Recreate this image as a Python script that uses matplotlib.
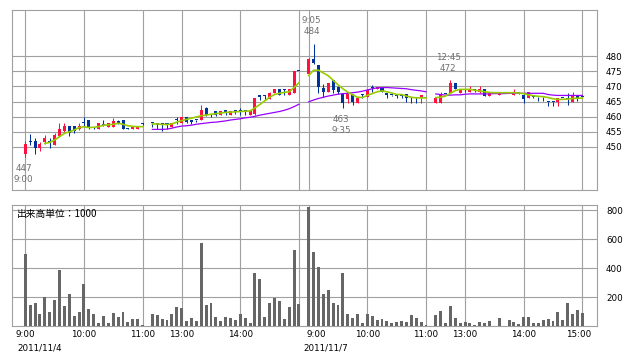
import numpy as np
import matplotlib
matplotlib.use("Agg")
import matplotlib.pyplot as plt
from matplotlib.transforms import blended_transform_factory

plt.rcParams["font.family"] = ["DejaVu Sans", "Noto Sans CJK JP"]

# ================= DATA =================
# 5-minute bars, one slot per bar; session breaks are empty slots (25, 57, 83)
bar_slot = list(range(0, 25)) + list(range(26, 57)) + list(range(58, 83)) + \
    list(range(84, 96)) + [97] + list(range(99, 115))

bar_open = [
    447.8, 452.0, 452.1, 449.8, 451.7, 452.0, 450.8, 453.7, 455.4, 456.9, 456.9, 455.8, 458.3,
    458.9, 456.5, 455.8, 457.5, 456.7, 456.7, 458.5, 458.9, 456.3, 455.8, 455.8, 457.8,
    458.0, 457.6, 457.6, 457.6, 456.6, 459.0, 457.8, 459.8, 458.6, 459.0, 458.9, 462.8, 460.8,
    461.9, 460.5, 461.9, 460.5, 461.9, 462.0, 461.9, 460.5, 460.8, 467.0, 467.0, 465.8, 467.7,
    469.0, 469.0, 467.1, 467.9, 475.0,
    474.0, 479.0, 477.0, 469.4, 468.0, 472.1, 469.9, 467.4, 465.7, 467.4, 464.6, 467.4, 466.6,
    469.5, 469.0, 469.9, 467.4, 467.3, 467.0, 467.0, 467.4, 466.4, 466.4, 466.0, 466.2,
    464.6, 464.6, 467.5, 467.9, 471.0, 467.9, 469.0, 468.0, 469.0, 468.0, 469.0, 466.8,
    467.0, 468.0, 467.0, 467.8, 467.1, 466.0, 466.8, 466.6, 466.6, 465.0, 465.0, 465.0, 466.0,
    466.0, 465.0, 467.1, 466.6,
]
bar_high = [
    452.0, 454.2, 453.1, 451.8, 454.0, 453.1, 454.7, 457.8, 457.9, 456.9, 456.9, 458.0, 459.8,
    458.9, 456.6, 457.8, 458.9, 457.8, 459.5, 458.9, 458.9, 456.3, 456.9, 456.9, 457.9,
    458.0, 457.6, 457.6, 457.6, 458.0, 459.8, 460.0, 459.8, 458.6, 459.0, 463.8, 463.1, 460.8,
    461.9, 461.9, 461.9, 461.9, 461.9, 463.0, 461.9, 461.9, 466.3, 467.1, 467.1, 468.0, 469.2,
    469.0, 469.0, 469.0, 475.0, 475.0,
    479.5, 484.0, 477.0, 470.7, 471.0, 472.1, 470.2, 467.4, 467.4, 467.4, 466.0, 467.4, 468.8,
    470.5, 469.9, 469.9, 467.4, 467.3, 467.6, 467.6, 467.4, 466.4, 466.4, 467.1, 466.2,
    466.0, 468.0, 467.5, 472.1, 471.0, 469.0, 469.0, 470.0, 469.2, 470.0, 469.0, 467.9,
    467.9, 468.2, 469.0, 467.9, 467.6, 468.2, 466.8, 466.6, 466.6, 465.0, 465.0, 466.0, 466.0,
    467.7, 468.0, 467.1, 466.6,
]
bar_low = [
    446.8, 450.7, 447.8, 448.8, 451.0, 449.8, 450.5, 453.4, 454.9, 453.6, 454.7, 455.7, 456.5,
    455.8, 455.8, 455.8, 457.0, 456.7, 456.7, 457.5, 455.8, 455.8, 455.8, 455.8, 457.3,
    456.6, 456.0, 455.4, 456.0, 456.6, 457.5, 457.8, 458.0, 457.6, 458.4, 458.9, 460.3, 459.8,
    460.3, 460.5, 460.5, 460.5, 460.8, 460.5, 460.5, 460.5, 460.5, 465.5, 465.5, 465.8, 467.7,
    467.1, 467.0, 467.1, 467.9, 475.0,
    474.0, 477.5, 467.7, 466.5, 468.0, 467.7, 467.6, 463.0, 464.6, 464.0, 464.6, 466.0, 466.6,
    468.0, 469.0, 468.2, 466.3, 466.8, 466.0, 466.0, 465.0, 464.6, 464.6, 464.6, 466.2,
    464.6, 464.6, 467.3, 467.9, 469.0, 467.9, 468.0, 468.0, 468.0, 467.9, 466.8, 466.8,
    467.0, 467.8, 467.0, 467.6, 464.4, 466.0, 466.0, 465.2, 465.2, 463.5, 463.5, 463.5, 466.0,
    463.8, 465.0, 465.2, 466.6,
]
bar_close = [
    451.0, 451.7, 449.8, 451.0, 453.1, 451.2, 454.0, 455.9, 457.0, 454.7, 455.4, 456.9, 458.0,
    456.5, 456.3, 457.8, 457.3, 457.8, 458.7, 458.0, 455.8, 456.0, 456.9, 456.9, 457.7,
    457.8, 457.4, 457.4, 457.4, 458.0, 458.8, 459.8, 458.4, 458.4, 458.8, 462.2, 460.5, 460.5,
    460.5, 461.9, 461.7, 461.9, 461.7, 461.8, 461.7, 461.9, 466.3, 466.6, 466.8, 467.9, 469.0,
    467.1, 468.8, 469.0, 475.0, 475.0,
    479.0, 477.7, 469.9, 468.0, 471.0, 468.8, 468.2, 464.6, 467.4, 464.9, 466.0, 467.1, 468.8,
    469.3, 469.9, 468.2, 467.3, 467.1, 466.8, 466.8, 466.0, 466.2, 466.2, 467.1, 466.2,
    466.0, 467.5, 467.4, 471.2, 469.0, 469.0, 468.8, 469.2, 468.8, 469.0, 466.8, 467.9,
    467.9, 467.9, 468.0, 467.7, 465.7, 468.2, 466.6, 466.4, 466.4, 464.8, 464.8, 466.0, 466.0,
    465.8, 466.8, 466.0, 466.6,
]
volume = [
    497, 147, 159, 85, 200, 96, 181, 388, 140, 223, 71, 96, 292, 119, 85, 23, 71, 25, 92, 64,
    96, 30, 51, 51, 9,
    85, 78, 51, 44, 85, 131, 124, 37, 55, 37, 573, 147, 159, 64, 37, 64, 57, 44, 85, 57, 23,
    366, 324, 64, 159, 193, 175, 51, 131, 526, 154,
    821, 510, 409, 221, 248, 161, 147, 366, 85, 57, 85, 23, 85, 71, 44, 51, 35, 23, 30, 37,
    30, 78, 57, 30, 9,
    78, 106, 25, 140, 57, 23, 30, 23, 9, 30, 23, 37, 57, 44, 30, 16, 64, 64, 23, 23, 44, 51,
    37, 99, 44, 161, 85, 113, 92,
]

# moving averages, one value per slot (None = not drawn)
ma_short = [None] * 4 + [
    451.2, 451.5, 452.3, 453.4, 454.5, 455.0, 455.6, 456.4, 456.7, 456.4, 456.5, 456.7, 457.2,
    457.3, 457.5, 457.8, 457.5, 457.0, 456.8, 456.7, 456.7,
] + [None] + [
    457.6, 457.6, 457.4, 457.4, 457.6, 458.2, 458.7, 459.1, 459.5, 459.9, 460.3, 460.5, 460.8,
    461.0, 461.2, 461.4, 461.5, 461.6, 461.7, 461.8, 461.9, 462.9, 464.0, 465.2, 466.4, 467.3,
    467.7, 468.0, 468.2, 469.6, 471.2,
] + [None] + [
    473.6, 475.3, 475.3, 474.4, 473.5, 472.0, 470.5, 469.2, 468.1, 467.2, 466.4, 466.3, 467.0,
    467.6, 468.2, 468.5, 468.2, 467.8, 467.3, 467.3, 466.8, 466.4, 466.2, 466.2, 466.2,
] + [None] + [
    466.3, 466.4, 466.8, 467.7, 468.6, 469.0, 469.0, 469.0, 468.7, 468.5, 468.2, 468.0, 467.9,
    467.9, 467.9, 467.9, 467.9, 467.8, 467.6, 467.2, 466.9, 466.7, 466.6, 466.3, 465.9, 465.7,
    465.7, 465.8, 466.0, 466.1, 466.1,
]
ma_long = [None] * 24 + [455.6] + [None] + [
    455.8, 455.8, 455.8, 455.9, 456.2, 456.6, 456.9, 457.0, 457.2, 457.5, 457.7, 457.9, 458.1,
    458.2, 458.4, 458.6, 458.9, 459.1, 459.3, 459.6, 459.8, 460.1, 460.5, 460.8, 461.1, 461.4,
    461.7, 462.1, 462.6, 463.3, 464.1,
] + [None] + [
    464.9, 465.5, 466.0, 466.4, 466.8, 467.1, 467.4, 467.6, 467.7, 467.9, 468.1, 468.4, 468.8,
    469.2, 469.5, 469.6, 469.6, 469.5, 469.4, 469.3, 469.2, 468.9, 468.7, 468.5, 468.2,
] + [None] + [
    467.5, 467.3, 467.1, 467.1, 467.2, 467.2, 467.4, 467.5, 467.5, 467.5, 467.5, 467.5, 467.6,
    467.6, 467.6, 467.7, 467.7, 467.7, 467.7, 467.7, 467.7, 467.7, 467.7, 467.3, 467.1, 467.0,
    467.0, 467.0, 467.0, 467.0, 467.0,
]

price_ticks = [450, 455, 460, 465, 470, 475, 480]
volume_ticks = [200, 400, 600, 800]
grid_slots = [0, 12, 24, 32, 44, 56, 58, 70, 82, 90, 102, 114]
hour_labels = ["9:00", "10:00", "11:00", "13:00", "14:00",
               "9:00", "10:00", "11:00", "13:00", "14:00", "15:00"]
hour_slots = [0, 12, 24, 32, 44, 58, 70, 82, 90, 102, 114]
date_labels = ["2011/11/4", "2011/11/7"]
date_slots = [0, 58]
# (slot, price, time, kind)
extremes = [(0, 447, "9:00", "low"), (59, 484, "9:05", "high"),
            (65, 463, "9:35", "low"), (87, 472, "12:45", "high")]
volume_unit = "出来高単位：1000"
# ================================================

UP = "#FF1040"
DOWN = "#003399"
GRID = "#A0A0A0"
FS = 6.3

fig = plt.figure(figsize=(6.38, 3.62), dpi=100)
W, H = 638, 362
ax_p = fig.add_axes([12 / W, 1 - 190 / H, 585 / W, 180 / H])
ax_v = fig.add_axes([12 / W, 1 - 326.3 / H, 585 / W, 121 / H])

for ax in (ax_p, ax_v):
    ax.set_xlim(-2.72, 117.0)
    ax.set_xticks(grid_slots)
    ax.set_xticklabels([])
    ax.yaxis.tick_right()
    ax.tick_params(length=0, pad=6.5, labelsize=FS)
    ax.grid(True, color=GRID, lw=0.8)
    ax.set_axisbelow(True)
    for s in ax.spines.values():
        s.set_color(GRID)
        s.set_linewidth(0.8)

# price panel
ax_p.set_ylim(435.82, 495.17)
ax_p.set_yticks(price_ticks)

o = np.array(bar_open)
c = np.array(bar_close)
colors = np.where(c > o, UP, DOWN)
ax_p.vlines(bar_slot, bar_low, bar_high, colors=colors, lw=0.75, zorder=2)
ax_p.bar(bar_slot, np.maximum(np.abs(c - o), 0.35), bottom=np.minimum(o, c),
         width=0.62, color=colors, lw=0, zorder=3)

slots = np.arange(len(ma_short))
ax_p.plot(slots, np.array(ma_long, dtype=float), color="#9900FF", lw=0.9, zorder=4)
ax_p.plot(slots, np.array(ma_short, dtype=float), color="#99CC00", lw=1.2, zorder=5)

for slot, price, tm, kind in extremes:
    if kind == "high":
        ax_p.annotate(f"{tm}\n{price}", (slot, price), xytext=(-1.5, 5.5),
                      textcoords="offset points", ha="center", va="bottom",
                      fontsize=FS, color="#707070", linespacing=1.3)
    else:
        ax_p.annotate(f"{price}\n{tm}", (slot, price), xytext=(-1.2, -5.5),
                      textcoords="offset points", ha="center", va="top",
                      fontsize=FS, color="#707070", linespacing=1.3)

# volume panel
ax_v.set_ylim(0, 834)
ax_v.set_yticks(volume_ticks)
ax_v.bar(bar_slot, volume, width=0.6, color="#666666", lw=0, zorder=3)
ax_v.text(0.008, 0.925, volume_unit, transform=ax_v.transAxes, va="center",
          ha="left", fontsize=7, family=["Noto Sans CJK JP"])

trans = blended_transform_factory(ax_v.transData, ax_v.transAxes)
label_shift = {5: 1.6, 10: -0.7}
for i, (lab, slot) in enumerate(zip(hour_labels, hour_slots)):
    ax_v.text(slot + label_shift.get(i, 0), -0.069, lab, transform=trans,
              ha="center", va="center", fontsize=FS)
for lab, slot, dx in zip(date_labels, date_slots, [-1.6, -1.1]):
    ax_v.text(slot + dx, -0.18, lab, transform=trans, ha="left", va="center",
              fontsize=FS)

fig.savefig("out.png", dpi=100, facecolor="white")
